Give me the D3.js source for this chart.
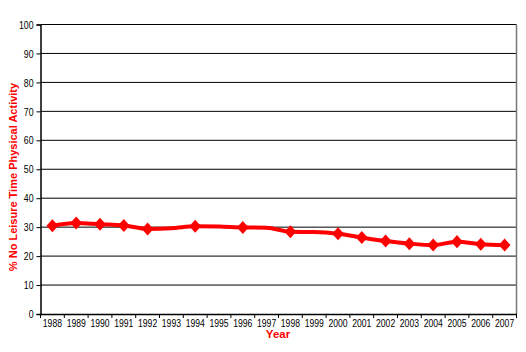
<!DOCTYPE html>
<html>
<head>
<meta charset="utf-8">
<script src="https://cdn.jsdelivr.net/npm/d3@7"></script>
<style>
  body { margin: 0; background: #fff; }
  text { font-family: Arial, "Liberation Sans", sans-serif; }
</style>
</head>
<body>
<div id="chart"></div>
<script>
// Data
const years = ["1988", "1989", "1990", "1991", "1992", "1993", "1994", "1995", "1996", "1997",
    "1998", "1999", "2000", "2001", "2002", "2003", "2004", "2005", "2006", "2007"];
const pctNoActivity = [30.5, 31.4, 31.0, 30.6, 29.4, 29.6, 30.3, 30.2, 29.9, 29.8,
    28.4, 28.3, 27.7, 26.4, 25.2, 24.3, 23.8, 25.0, 24.1, 23.8];
const markerYears = ["1988", "1989", "1990", "1991", "1992", "1994", "1996", "1998",
    "2000", "2001", "2002", "2003", "2004", "2005", "2006", "2007"];
const yTicks = [0, 10, 20, 30, 40, 50, 60, 70, 80, 90, 100];

const width = 526, height = 352;
const margin = { top: 24.5, right: 9.5, bottom: 38, left: 40.5 };
const red = "#ff0000";

const svg = d3.select("#chart").append("svg")
    .attr("width", width)
    .attr("height", height);

const x = d3.scaleBand()
    .domain(years)
    .range([margin.left, width - margin.right]);

const y = d3.scaleLinear()
    .domain([0, 100])
    .range([height - margin.bottom, margin.top]);

// Horizontal gridlines
svg.append("g")
    .selectAll("line")
    .data(yTicks.slice(1))
    .join("line")
    .attr("x1", margin.left)
    .attr("x2", width - margin.right)
    .attr("y1", d => y(d))
    .attr("y2", d => y(d))
    .attr("stroke", "#000")
    .attr("stroke-width", 1);

// Plot border (right side)
svg.append("line")
    .attr("x1", width - margin.right)
    .attr("x2", width - margin.right)
    .attr("y1", margin.top)
    .attr("y2", height - margin.bottom)
    .attr("stroke", "#777")
    .attr("stroke-width", 1.5);

// Y axis - labels squeezed horizontally like the original's narrow font
const yAxis = svg.append("g")
    .attr("transform", `translate(${margin.left},0)`)
    .call(d3.axisLeft(y).tickValues(yTicks).tickSize(4).tickPadding(3));
yAxis.select(".domain").attr("stroke", "#000").attr("stroke-width", 1.5);
yAxis.selectAll(".tick line").attr("stroke", "#000");
yAxis.selectAll("text")
    .attr("font-size", 11.5)
    .attr("fill", "#000")
    .attr("x", -7 / 0.76)
    .attr("transform", "scale(0.76,1)");

// X axis with ticks between categories
const xAxis = svg.append("g")
    .attr("transform", `translate(0,${height - margin.bottom})`)
    .call(d3.axisBottom(x).tickSize(0).tickPadding(6));
xAxis.select(".domain").attr("stroke", "#000").attr("stroke-width", 1.5);
xAxis.selectAll("text")
    .attr("font-size", 10.5)
    .attr("fill", "#000")
    .attr("transform", "scale(0.82,1)");
xAxis.append("g")
    .selectAll("line")
    .data(years)
    .join("line")
    .attr("x1", d => x(d))
    .attr("x2", d => x(d))
    .attr("y1", 0)
    .attr("y2", 4)
    .attr("stroke", "#000");
xAxis.append("line")
    .attr("x1", width - margin.right)
    .attr("x2", width - margin.right)
    .attr("y1", 0)
    .attr("y2", 4)
    .attr("stroke", "#000");

// Line
const cx = d => x(d) + x.bandwidth() / 2;
const line = d3.line()
    .x((d, i) => cx(years[i]))
    .y(d => y(d))
    .curve(d3.curveMonotoneX);

svg.append("path")
    .datum(pctNoActivity)
    .attr("fill", "none")
    .attr("stroke", red)
    .attr("stroke-width", 4)
    .attr("d", line);

// Diamond markers (rotated square)
const square = d3.symbol().type(d3.symbolSquare).size(70);
svg.append("g")
    .selectAll("path")
    .data(markerYears)
    .join("path")
    .attr("d", square)
    .attr("transform", d => `translate(${cx(d)},${y(pctNoActivity[years.indexOf(d)])}) scale(1,1.1) rotate(45)`)
    .attr("fill", red);

// Axis titles
svg.append("text")
    .attr("x", 278)
    .attr("y", 338)
    .attr("text-anchor", "middle")
    .attr("fill", red)
    .attr("font-weight", "bold")
    .attr("font-size", 11.5)
    .text("Year");

svg.append("text")
    .attr("transform", "translate(17,177) rotate(-90)")
    .attr("text-anchor", "middle")
    .attr("fill", red)
    .attr("font-weight", "bold")
    .attr("font-size", 11)
    .text("% No Leisure Time Physical Activity");
</script>
</body>
</html>
